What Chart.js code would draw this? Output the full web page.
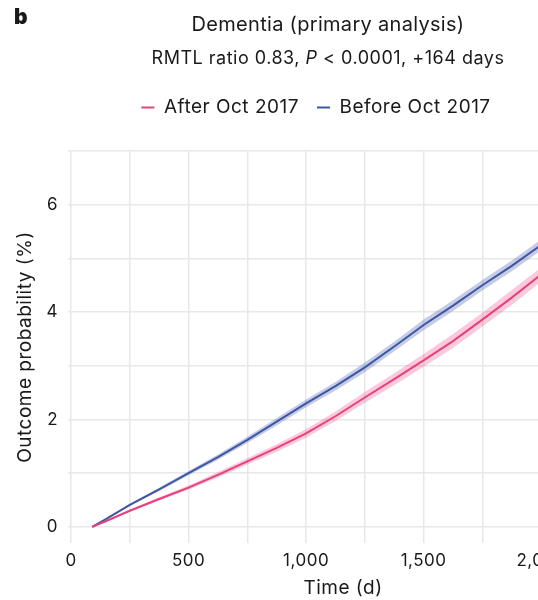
<!DOCTYPE html>
<html>
<head>
<meta charset="utf-8">
<script src="https://cdn.jsdelivr.net/npm/chart.js@4"></script>
<style>
  html, body { margin: 0; padding: 0; background: #fff; overflow: hidden; }
  body { width: 538px; height: 600px; position: relative; font-family: Inter, "Liberation Sans", sans-serif; color: #1a1a1a; }
  .wrap { position: absolute; left: 0; top: 0; width: 640px; height: 600px; }
  .panel { position: absolute; left: 14px; top: 4px; font-weight: 900; font-size: 21px; }
  .line { position: absolute; left: 0; width: 656px; text-align: center; white-space: nowrap; }
  .t1 { top: 9px; font-size: 20px; line-height: 30px; letter-spacing: 0.3px; }
  .t2 { top: 43px; font-size: 18px; line-height: 30px; letter-spacing: 0.5px; }
</style>
</head>
<body>
<div class="wrap"><canvas id="myChart" width="640" height="600"></canvas></div>
<div class="panel">b</div>
<div class="line t1">Dementia (primary analysis)</div>
<div class="line t2">RMTL ratio 0.83, <i>P</i> &lt; 0.0001, +164 days</div>
<script>
// follow-up time (days) and cumulative outcome probability (%)
var days = [90, 150, 250, 375, 500, 625, 750, 875, 1000, 1125, 1250, 1375, 1500, 1625, 1750, 1875, 2000];
var afterVals = [0, 0.11, 0.30, 0.52, 0.73, 0.97, 1.22, 1.47, 1.74, 2.06, 2.41, 2.75, 3.10, 3.46, 3.86, 4.27, 4.70];
var afterLow  = [0, 0.10, 0.28, 0.49, 0.69, 0.92, 1.16, 1.40, 1.66, 1.97, 2.31, 2.64, 2.98, 3.33, 3.73, 4.13, 4.57];
var afterHigh = [0, 0.12, 0.32, 0.55, 0.77, 1.02, 1.28, 1.54, 1.82, 2.15, 2.51, 2.86, 3.22, 3.59, 3.99, 4.41, 4.83];
var beforeVals = [0, 0.15, 0.41, 0.70, 1.00, 1.30, 1.62, 1.96, 2.30, 2.62, 2.97, 3.36, 3.76, 4.12, 4.50, 4.86, 5.25];
var beforeLow  = [0, 0.14, 0.39, 0.67, 0.96, 1.25, 1.56, 1.89, 2.23, 2.54, 2.88, 3.27, 3.66, 4.02, 4.40, 4.76, 5.15];
var beforeHigh = [0, 0.16, 0.43, 0.73, 1.04, 1.35, 1.68, 2.03, 2.37, 2.70, 3.06, 3.45, 3.86, 4.22, 4.60, 4.96, 5.35];
var seriesNames = ['After Oct 2017', 'Before Oct 2017'];
var xTicks = [0, 250, 500, 750, 1000, 1250, 1500, 1750, 2000, 2250];
var yTicks = [0, 1, 2, 3, 4, 5, 6, 7];

var pink = '#e8407e';
var blue = '#3e56a6';
var txt = '#1a1a1a';
var grid = '#e8e8e8';

function pts(vals) {
    var out = [];
    for (var i = 0; i < days.length; i++) {
        out.push({ x: days[i], y: vals[i] });
    }
    return out;
}

function band(vals, color, fill) {
    return { data: pts(vals), borderWidth: 0, pointRadius: 0, backgroundColor: color, fill: fill, tension: 0 };
}

function line(vals, color, name) {
    return { label: name, data: pts(vals), borderColor: color, backgroundColor: color, borderWidth: 2, pointRadius: 0, fill: false, tension: 0 };
}

var FONT = 'Inter, "Liberation Sans", sans-serif';

// slightly wider text on the canvas, and a fixed gap under the legend
var tweaks = {
    id: 'tweaks',
    beforeInit: function (chart) {
        var fit = chart.legend.fit;
        chart.legend.fit = function () {
            fit.call(this);
            this.height = 71;
        };
    },
    beforeUpdate: function (chart) { chart.ctx.letterSpacing = '0.5px'; },
    beforeDraw: function (chart) { chart.ctx.letterSpacing = '0.5px'; }
};

const ctx = document.getElementById('myChart').getContext('2d');
const myChart = new Chart(ctx, {
    type: 'line',
    plugins: [tweaks],
    data: {
        datasets: [
            line(afterVals, pink, seriesNames[0]),
            line(beforeVals, blue, seriesNames[1]),
            band(afterHigh, 'rgba(232, 64, 126, 0.28)', '+1'),
            band(afterLow, 'rgba(232, 64, 126, 0)', false),
            band(beforeHigh, 'rgba(62, 86, 166, 0.3)', '+1'),
            band(beforeLow, 'rgba(62, 86, 166, 0)', false)
        ]
    },
    options: {
        responsive: false,
        animation: false,
        layout: { padding: { top: 80, right: 22, left: 14, bottom: 0 } },
        plugins: {
            tooltip: { enabled: false },
            legend: {
                position: 'top',
                labels: {
                    color: txt,
                    font: { family: FONT, size: 19 },
                    boxWidth: 13,
                    boxHeight: 2,
                    padding: 18,
                    generateLabels: function (chart) {
                        return [0, 1].map(function (i) {
                            var ds = chart.data.datasets[i];
                            return { text: ds.label, fillStyle: ds.borderColor, strokeStyle: ds.borderColor, lineWidth: 0, datasetIndex: i, fontColor: txt };
                        });
                    }
                }
            }
        },
        scales: {
            x: {
                type: 'linear',
                min: -13,
                max: 2327,
                afterBuildTicks: function (scale) {
                    scale.ticks = xTicks.map(function (v) { return { value: v }; });
                },
                afterFit: function (scale) { scale.height = 57; },
                grid: { color: grid, lineWidth: 1.5, drawTicks: false },
                border: { display: false },
                ticks: {
                    color: txt,
                    padding: 8,
                    maxRotation: 0,
                    autoSkip: false,
                    font: { family: FONT, size: 17 },
                    callback: function (v) { return v % 500 === 0 ? v.toLocaleString('en-US') : ''; }
                },
                title: { display: true, text: 'Time (d)', color: txt, font: { family: FONT, size: 19 }, padding: { top: 2, bottom: 0 } }
            },
            y: {
                min: -0.3,
                max: 7,
                afterBuildTicks: function (scale) {
                    scale.ticks = yTicks.map(function (v) { return { value: v }; });
                },
                afterFit: function (scale) { scale.width = 54; },
                grid: { color: grid, lineWidth: 1.5, drawTicks: false },
                border: { display: false },
                ticks: {
                    color: txt,
                    padding: 10,
                    autoSkip: false,
                    font: { family: FONT, size: 17 },
                    callback: function (v) { return v % 2 === 0 ? String(v) : ''; }
                },
                title: { display: true, text: 'Outcome probability (%)', color: txt, font: { family: FONT, size: 19 }, padding: 0 }
            }
        }
    }
});
</script>
</body>
</html>
